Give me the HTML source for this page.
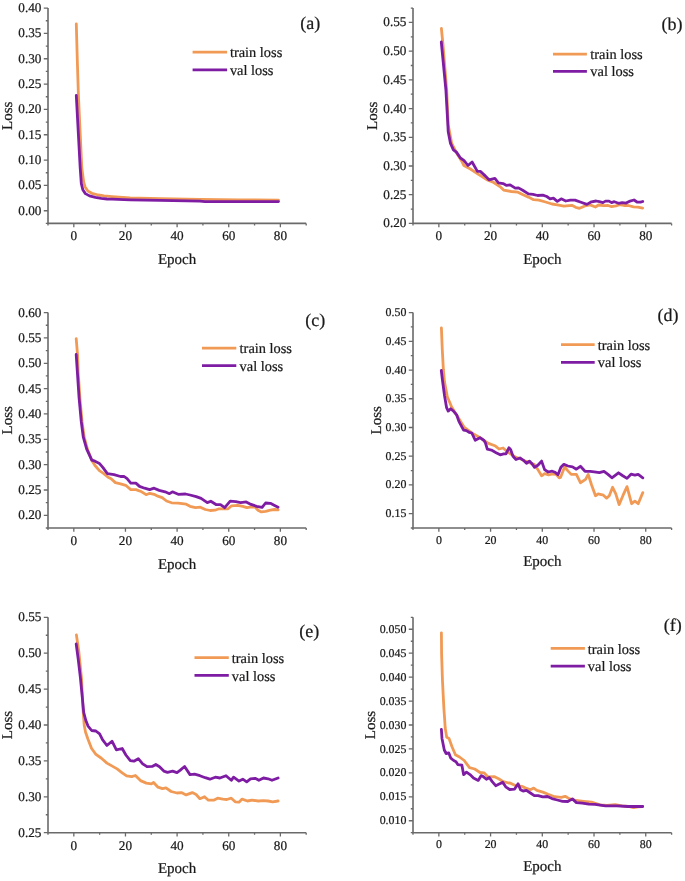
<!DOCTYPE html>
<html><head><meta charset="utf-8"><style>
html,body{margin:0;padding:0;background:#fff;}
svg{display:block;will-change:transform;}
text{font-family:"Liberation Serif", serif;text-rendering:geometricPrecision;fill:#1a1a1a;stroke:#1a1a1a;stroke-width:0.22px;}
</style></head><body>
<svg width="685" height="881" viewBox="0 0 685 881">
<rect width="685" height="881" fill="#fff"/>
<path d="M48.00,8.10V223.40H306.20" fill="none" stroke="#6a6a6a" stroke-width="1.6"/>
<path d="M45.80,223.40H48.00M43.80,210.74H48.00M45.80,198.07H48.00M43.80,185.41H48.00M45.80,172.74H48.00M43.80,160.08H48.00M45.80,147.41H48.00M43.80,134.75H48.00M45.80,122.08H48.00M43.80,109.42H48.00M45.80,96.75H48.00M43.80,84.09H48.00M45.80,71.42H48.00M43.80,58.76H48.00M45.80,46.09H48.00M43.80,33.43H48.00M45.80,20.76H48.00M43.80,8.10H48.00M48.00,223.40V225.40M73.82,223.40V227.20M99.64,223.40V225.40M125.46,223.40V227.20M151.28,223.40V225.40M177.10,223.40V227.20M202.92,223.40V225.40M228.74,223.40V227.20M254.56,223.40V225.40M280.38,223.40V227.20M306.20,223.40V225.40" stroke="#6a6a6a" stroke-width="1.3" fill="none"/>
<text x="41.40" y="214.70" text-anchor="end" font-size="13.2">0.00</text>
<text x="41.40" y="189.37" text-anchor="end" font-size="13.2">0.05</text>
<text x="41.40" y="164.04" text-anchor="end" font-size="13.2">0.10</text>
<text x="41.40" y="138.71" text-anchor="end" font-size="13.2">0.15</text>
<text x="41.40" y="113.38" text-anchor="end" font-size="13.2">0.20</text>
<text x="41.40" y="88.05" text-anchor="end" font-size="13.2">0.25</text>
<text x="41.40" y="62.72" text-anchor="end" font-size="13.2">0.30</text>
<text x="41.40" y="37.39" text-anchor="end" font-size="13.2">0.35</text>
<text x="41.40" y="12.06" text-anchor="end" font-size="13.2">0.40</text>
<text x="73.82" y="240.40" text-anchor="middle" font-size="13.2">0</text>
<text x="125.46" y="240.40" text-anchor="middle" font-size="13.2">20</text>
<text x="177.10" y="240.40" text-anchor="middle" font-size="13.2">40</text>
<text x="228.74" y="240.40" text-anchor="middle" font-size="13.2">60</text>
<text x="280.38" y="240.40" text-anchor="middle" font-size="13.2">80</text>
<text x="177.10" y="263.60" text-anchor="middle" font-size="15">Epoch</text>
<text transform="translate(12.10,115.75) rotate(-90)" x="0" y="0" text-anchor="middle" font-size="15">Loss</text>
<polyline points="76.3,24.0 77.3,60.0 78.4,95.0 81.8,168.0 83.7,182.2 85.1,186.9 87.8,191.0 91.9,193.3 98.3,195.0 104.1,195.9 112.0,196.6 130.0,197.8 160.0,198.6 200.0,199.4 240.0,199.9 278.5,200.2" fill="none" stroke="#f19a55" stroke-width="2.8" stroke-linejoin="round" stroke-linecap="round"/>
<polyline points="76.3,95.5 80.2,168.0 81.3,183.4 82.8,189.8 85.4,193.6 89.5,195.9 95.4,197.4 101.2,198.4 107.0,199.0 112.0,199.2 130.0,199.8 160.0,200.4 200.0,201.1 205.0,201.6 278.5,201.6" fill="none" stroke="#7e1ca4" stroke-width="2.8" stroke-linejoin="round" stroke-linecap="round"/>
<path d="M192.60,52.20H227.10" stroke="#f19a55" stroke-width="2.7"/>
<path d="M192.60,69.80H227.10" stroke="#7e1ca4" stroke-width="2.7"/>
<text x="229.90" y="56.80" font-size="14.4">train loss</text>
<text x="229.90" y="74.60" font-size="14.4">val loss</text>
<text x="300.30" y="29.30" font-size="18">(a)</text>
<path d="M413.00,8.10V223.40H671.60" fill="none" stroke="#6a6a6a" stroke-width="1.6"/>
<path d="M408.80,223.40H413.00M410.80,209.05H413.00M408.80,194.69H413.00M410.80,180.34H413.00M408.80,165.99H413.00M410.80,151.63H413.00M408.80,137.28H413.00M410.80,122.93H413.00M408.80,108.57H413.00M410.80,94.22H413.00M408.80,79.87H413.00M410.80,65.51H413.00M408.80,51.16H413.00M410.80,36.81H413.00M408.80,22.45H413.00M410.80,8.10H413.00M413.00,223.40V225.40M438.86,223.40V227.20M464.72,223.40V225.40M490.58,223.40V227.20M516.44,223.40V225.40M542.30,223.40V227.20M568.16,223.40V225.40M594.02,223.40V227.20M619.88,223.40V225.40M645.74,223.40V227.20M671.60,223.40V225.40" stroke="#6a6a6a" stroke-width="1.3" fill="none"/>
<text x="406.40" y="227.36" text-anchor="end" font-size="13.2">0.20</text>
<text x="406.40" y="198.65" text-anchor="end" font-size="13.2">0.25</text>
<text x="406.40" y="169.95" text-anchor="end" font-size="13.2">0.30</text>
<text x="406.40" y="141.24" text-anchor="end" font-size="13.2">0.35</text>
<text x="406.40" y="112.53" text-anchor="end" font-size="13.2">0.40</text>
<text x="406.40" y="83.83" text-anchor="end" font-size="13.2">0.45</text>
<text x="406.40" y="55.12" text-anchor="end" font-size="13.2">0.50</text>
<text x="406.40" y="26.41" text-anchor="end" font-size="13.2">0.55</text>
<text x="438.86" y="240.40" text-anchor="middle" font-size="13.2">0</text>
<text x="490.58" y="240.40" text-anchor="middle" font-size="13.2">20</text>
<text x="542.30" y="240.40" text-anchor="middle" font-size="13.2">40</text>
<text x="594.02" y="240.40" text-anchor="middle" font-size="13.2">60</text>
<text x="645.74" y="240.40" text-anchor="middle" font-size="13.2">80</text>
<text x="542.30" y="263.60" text-anchor="middle" font-size="15">Epoch</text>
<text transform="translate(377.10,115.75) rotate(-90)" x="0" y="0" text-anchor="middle" font-size="15">Loss</text>
<polyline points="441.4,28.5 443.0,45.0 446.7,90.0 448.2,124.7 451.7,143.4 456.4,152.7 461.6,160.9 463.9,165.5 470.4,169.0 478.5,174.3 486.7,179.6 493.7,182.5 500.7,187.2 503.6,190.1 511.2,191.5 517.9,192.2 523.1,194.8 528.4,197.1 533.6,199.7 538.9,200.1 545.5,202.0 552.0,204.0 557.3,204.9 563.9,206.2 571.8,205.3 575.7,207.3 579.6,208.3 584.9,206.0 590.1,204.9 595.4,207.0 598.5,205.0 603.8,205.7 608.1,205.5 611.6,206.6 616.0,205.9 619.5,204.6 623.9,205.5 628.3,205.5 633.5,206.8 637.9,207.2 642.7,208.1" fill="none" stroke="#f19a55" stroke-width="2.8" stroke-linejoin="round" stroke-linecap="round"/>
<polyline points="441.3,42.0 445.9,90.0 447.6,120.0 448.2,131.7 450.5,143.4 453.4,149.8 456.4,152.1 460.4,158.0 463.9,160.3 468.0,165.5 472.1,162.0 477.4,171.4 480.3,171.4 485.5,176.1 489.0,179.8 494.9,178.4 498.4,182.8 503.1,183.6 506.6,185.4 510.1,184.8 515.3,188.2 518.5,187.9 523.1,190.5 528.4,193.9 533.0,194.4 537.6,195.5 542.8,195.2 546.8,196.5 550.1,198.8 553.4,198.1 557.3,201.4 561.2,198.8 565.8,201.0 570.4,200.1 575.0,200.1 581.0,202.3 586.9,204.4 591.5,201.8 596.1,201.0 599.4,201.7 602.9,202.6 605.5,201.1 609.0,201.1 611.6,202.6 614.3,201.7 618.6,203.3 622.2,202.6 626.1,203.1 629.2,201.4 634.0,200.0 637.0,202.0 640.5,202.2 642.7,201.5" fill="none" stroke="#7e1ca4" stroke-width="2.8" stroke-linejoin="round" stroke-linecap="round"/>
<path d="M553.00,54.20H586.90" stroke="#f19a55" stroke-width="2.7"/>
<path d="M553.00,71.40H586.90" stroke="#7e1ca4" stroke-width="2.7"/>
<text x="590.30" y="59.00" font-size="14.4">train loss</text>
<text x="590.30" y="76.20" font-size="14.4">val loss</text>
<text x="661.60" y="29.60" font-size="18">(b)</text>
<path d="M48.00,312.60V528.00H306.20" fill="none" stroke="#6a6a6a" stroke-width="1.6"/>
<path d="M45.80,528.00H48.00M43.80,515.33H48.00M45.80,502.66H48.00M43.80,489.99H48.00M45.80,477.32H48.00M43.80,464.65H48.00M45.80,451.98H48.00M43.80,439.31H48.00M45.80,426.64H48.00M43.80,413.96H48.00M45.80,401.29H48.00M43.80,388.62H48.00M45.80,375.95H48.00M43.80,363.28H48.00M45.80,350.61H48.00M43.80,337.94H48.00M45.80,325.27H48.00M43.80,312.60H48.00M48.00,528.00V530.00M73.82,528.00V531.80M99.64,528.00V530.00M125.46,528.00V531.80M151.28,528.00V530.00M177.10,528.00V531.80M202.92,528.00V530.00M228.74,528.00V531.80M254.56,528.00V530.00M280.38,528.00V531.80M306.20,528.00V530.00" stroke="#6a6a6a" stroke-width="1.3" fill="none"/>
<text x="41.40" y="519.29" text-anchor="end" font-size="13.2">0.20</text>
<text x="41.40" y="493.95" text-anchor="end" font-size="13.2">0.25</text>
<text x="41.40" y="468.61" text-anchor="end" font-size="13.2">0.30</text>
<text x="41.40" y="443.27" text-anchor="end" font-size="13.2">0.35</text>
<text x="41.40" y="417.92" text-anchor="end" font-size="13.2">0.40</text>
<text x="41.40" y="392.58" text-anchor="end" font-size="13.2">0.45</text>
<text x="41.40" y="367.24" text-anchor="end" font-size="13.2">0.50</text>
<text x="41.40" y="341.90" text-anchor="end" font-size="13.2">0.55</text>
<text x="41.40" y="316.56" text-anchor="end" font-size="13.2">0.60</text>
<text x="73.82" y="545.00" text-anchor="middle" font-size="13.2">0</text>
<text x="125.46" y="545.00" text-anchor="middle" font-size="13.2">20</text>
<text x="177.10" y="545.00" text-anchor="middle" font-size="13.2">40</text>
<text x="228.74" y="545.00" text-anchor="middle" font-size="13.2">60</text>
<text x="280.38" y="545.00" text-anchor="middle" font-size="13.2">80</text>
<text x="177.10" y="568.50" text-anchor="middle" font-size="15">Epoch</text>
<text transform="translate(12.30,420.30) rotate(-90)" x="0" y="0" text-anchor="middle" font-size="15">Loss</text>
<polyline points="76.2,338.7 77.6,355.5 78.2,372.6 79.9,398.1 82.1,421.9 84.2,437.2 87.6,449.5 91.8,460.5 95.0,465.5 99.4,470.7 103.8,473.6 108.1,477.2 111.1,478.7 115.4,482.6 120.5,483.8 125.7,485.3 130.8,489.6 135.9,489.6 141.7,491.8 146.1,494.7 149.7,493.3 154.1,494.3 157.8,496.2 162.2,497.7 166.5,501.0 171.6,502.8 178.2,503.1 186.2,504.2 190.0,506.3 195.5,507.7 200.4,507.2 205.3,509.5 210.1,510.5 215.0,510.2 219.1,508.8 224.7,508.8 228.1,508.8 231.6,505.8 237.8,505.4 242.7,506.3 246.9,507.7 251.7,506.8 255.2,507.2 258.0,510.2 261.4,511.9 265.6,511.3 270.4,510.2 274.6,509.5 278.1,509.9" fill="none" stroke="#f19a55" stroke-width="2.8" stroke-linejoin="round" stroke-linecap="round"/>
<polyline points="76.2,354.5 77.4,372.6 79.1,398.1 81.3,421.9 83.3,437.2 86.7,449.1 91.8,460.2 95.0,461.2 99.4,463.4 103.0,467.7 107.4,473.6 114.0,474.7 120.5,476.5 124.2,476.5 127.1,478.7 130.8,483.1 135.9,483.1 139.5,486.4 144.6,488.2 149.7,489.6 154.1,488.2 159.2,490.4 165.1,491.8 169.5,493.7 172.4,491.8 178.2,494.3 185.5,494.0 190.0,495.0 196.2,496.6 201.1,498.4 207.3,502.6 210.8,501.2 216.4,504.7 220.5,504.7 224.7,507.7 230.2,501.2 235.8,501.6 240.6,502.6 246.2,501.9 251.0,504.4 256.6,506.3 262.1,507.4 265.6,503.0 270.4,503.3 274.6,505.4 278.1,507.2" fill="none" stroke="#7e1ca4" stroke-width="2.8" stroke-linejoin="round" stroke-linecap="round"/>
<path d="M202.00,348.10H236.30" stroke="#f19a55" stroke-width="2.7"/>
<path d="M202.00,365.70H236.30" stroke="#7e1ca4" stroke-width="2.7"/>
<text x="239.60" y="353.00" font-size="14.4">train loss</text>
<text x="239.60" y="370.50" font-size="14.4">val loss</text>
<text x="305.30" y="325.80" font-size="18">(c)</text>
<path d="M413.00,312.60V528.00H671.60" fill="none" stroke="#6a6a6a" stroke-width="1.6"/>
<path d="M410.80,528.00H413.00M408.80,513.64H413.00M410.80,499.28H413.00M408.80,484.92H413.00M410.80,470.56H413.00M408.80,456.20H413.00M410.80,441.84H413.00M408.80,427.48H413.00M410.80,413.12H413.00M408.80,398.76H413.00M410.80,384.40H413.00M408.80,370.04H413.00M410.80,355.68H413.00M408.80,341.32H413.00M410.80,326.96H413.00M408.80,312.60H413.00M413.00,528.00V530.00M438.86,528.00V531.80M464.72,528.00V530.00M490.58,528.00V531.80M516.44,528.00V530.00M542.30,528.00V531.80M568.16,528.00V530.00M594.02,528.00V531.80M619.88,528.00V530.00M645.74,528.00V531.80M671.60,528.00V530.00" stroke="#6a6a6a" stroke-width="1.3" fill="none"/>
<text x="406.40" y="517.21" text-anchor="end" font-size="11.9">0.15</text>
<text x="406.40" y="488.49" text-anchor="end" font-size="11.9">0.20</text>
<text x="406.40" y="459.77" text-anchor="end" font-size="11.9">0.25</text>
<text x="406.40" y="431.05" text-anchor="end" font-size="11.9">0.30</text>
<text x="406.40" y="402.33" text-anchor="end" font-size="11.9">0.35</text>
<text x="406.40" y="373.61" text-anchor="end" font-size="11.9">0.40</text>
<text x="406.40" y="344.89" text-anchor="end" font-size="11.9">0.45</text>
<text x="406.40" y="316.17" text-anchor="end" font-size="11.9">0.50</text>
<text x="438.86" y="543.60" text-anchor="middle" font-size="11.9">0</text>
<text x="490.58" y="543.60" text-anchor="middle" font-size="11.9">20</text>
<text x="542.30" y="543.60" text-anchor="middle" font-size="11.9">40</text>
<text x="594.02" y="543.60" text-anchor="middle" font-size="11.9">60</text>
<text x="645.74" y="543.60" text-anchor="middle" font-size="11.9">80</text>
<text x="542.30" y="565.70" text-anchor="middle" font-size="15">Epoch</text>
<text transform="translate(380.60,420.30) rotate(-90)" x="0" y="0" text-anchor="middle" font-size="15">Loss</text>
<polyline points="441.4,328.0 442.3,350.0 443.4,370.0 444.5,381.8 447.3,396.8 451.4,406.4 456.8,415.2 464.3,427.5 471.8,433.0 480.0,437.7 485.0,441.3 488.5,443.4 494.9,445.7 499.0,449.0 503.1,448.0 506.6,451.0 510.1,453.6 516.0,457.4 520.0,458.5 524.7,460.9 529.4,462.6 534.1,464.4 537.6,469.1 541.6,475.8 544.6,473.7 548.6,474.9 552.7,474.0 556.2,474.3 559.2,477.8 560.5,477.5 564.6,466.9 567.9,470.9 571.2,474.4 576.4,474.4 580.4,482.7 585.6,479.4 588.2,474.4 591.5,484.7 595.5,495.8 598.1,493.9 603.4,495.2 606.6,498.1 609.3,495.8 612.6,487.3 615.8,493.9 619.1,504.6 623.1,495.2 627.0,486.6 631.6,503.7 634.9,501.1 638.2,503.7 642.8,492.6" fill="none" stroke="#f19a55" stroke-width="2.8" stroke-linejoin="round" stroke-linecap="round"/>
<polyline points="441.3,370.5 442.5,380.5 444.5,395.5 446.6,407.7 448.2,411.1 450.7,408.8 454.1,411.8 456.8,415.2 458.9,421.4 463.6,430.2 466.4,430.6 469.1,432.3 471.8,433.0 475.2,440.2 480.0,437.7 484.1,440.5 485.5,443.0 487.3,449.2 491.4,450.1 496.1,452.7 500.2,454.8 503.7,453.9 506.0,453.9 508.9,447.8 510.7,449.8 513.0,456.2 516.0,459.5 520.0,458.0 523.5,460.3 526.5,463.4 529.4,461.1 531.7,463.4 534.6,467.3 538.1,465.0 541.6,461.1 544.6,469.6 548.1,472.0 552.2,471.2 555.1,472.3 558.0,474.7 560.9,467.3 563.9,464.3 567.9,466.0 572.5,466.9 576.4,469.2 580.4,466.3 585.0,471.3 590.2,471.3 594.2,471.8 599.4,472.6 604.0,471.3 608.0,474.4 611.9,477.8 618.5,472.8 622.4,475.5 627.0,478.4 631.0,474.2 634.9,475.2 638.2,474.4 642.8,477.8" fill="none" stroke="#7e1ca4" stroke-width="2.8" stroke-linejoin="round" stroke-linecap="round"/>
<path d="M561.00,344.60H594.70" stroke="#f19a55" stroke-width="2.7"/>
<path d="M561.00,362.30H594.70" stroke="#7e1ca4" stroke-width="2.7"/>
<text x="597.80" y="349.70" font-size="14.4">train loss</text>
<text x="597.80" y="367.40" font-size="14.4">val loss</text>
<text x="657.50" y="321.40" font-size="18">(d)</text>
<path d="M48.00,617.30V832.70H306.20" fill="none" stroke="#6a6a6a" stroke-width="1.6"/>
<path d="M43.80,832.70H48.00M45.80,814.75H48.00M43.80,796.80H48.00M45.80,778.85H48.00M43.80,760.90H48.00M45.80,742.95H48.00M43.80,725.00H48.00M45.80,707.05H48.00M43.80,689.10H48.00M45.80,671.15H48.00M43.80,653.20H48.00M45.80,635.25H48.00M43.80,617.30H48.00M48.00,832.70V834.70M73.82,832.70V836.50M99.64,832.70V834.70M125.46,832.70V836.50M151.28,832.70V834.70M177.10,832.70V836.50M202.92,832.70V834.70M228.74,832.70V836.50M254.56,832.70V834.70M280.38,832.70V836.50M306.20,832.70V834.70" stroke="#6a6a6a" stroke-width="1.3" fill="none"/>
<text x="41.40" y="836.66" text-anchor="end" font-size="13.2">0.25</text>
<text x="41.40" y="800.76" text-anchor="end" font-size="13.2">0.30</text>
<text x="41.40" y="764.86" text-anchor="end" font-size="13.2">0.35</text>
<text x="41.40" y="728.96" text-anchor="end" font-size="13.2">0.40</text>
<text x="41.40" y="693.06" text-anchor="end" font-size="13.2">0.45</text>
<text x="41.40" y="657.16" text-anchor="end" font-size="13.2">0.50</text>
<text x="41.40" y="621.26" text-anchor="end" font-size="13.2">0.55</text>
<text x="73.82" y="849.70" text-anchor="middle" font-size="13.2">0</text>
<text x="125.46" y="849.70" text-anchor="middle" font-size="13.2">20</text>
<text x="177.10" y="849.70" text-anchor="middle" font-size="13.2">40</text>
<text x="228.74" y="849.70" text-anchor="middle" font-size="13.2">60</text>
<text x="280.38" y="849.70" text-anchor="middle" font-size="13.2">80</text>
<text x="177.10" y="872.80" text-anchor="middle" font-size="15">Epoch</text>
<text transform="translate(12.20,725.00) rotate(-90)" x="0" y="0" text-anchor="middle" font-size="15">Loss</text>
<polyline points="76.4,634.9 78.9,652.3 81.6,679.5 83.0,709.5 84.2,725.0 85.5,732.0 87.9,739.0 91.6,748.5 95.9,754.3 101.1,758.0 106.9,763.1 112.7,766.4 117.1,768.9 122.2,772.8 126.6,775.8 131.7,776.6 135.4,775.5 140.5,780.6 146.3,783.1 151.4,783.9 153.6,782.5 158.0,787.2 162.4,788.6 166.0,787.9 171.1,791.5 177.0,793.0 181.4,792.6 186.1,794.9 192.3,792.6 196.1,794.5 199.9,798.7 204.5,796.7 208.4,800.2 213.7,800.2 217.6,798.2 222.9,799.1 226.8,799.5 231.3,798.2 235.2,801.8 239.0,802.2 242.1,799.1 247.4,801.0 252.0,800.2 258.2,801.0 263.5,800.7 268.1,801.0 272.7,801.8 278.1,801.0" fill="none" stroke="#f19a55" stroke-width="2.8" stroke-linejoin="round" stroke-linecap="round"/>
<polyline points="76.2,644.0 78.2,659.1 80.3,676.8 82.3,697.3 83.7,712.3 85.7,720.0 87.9,725.8 91.6,730.5 95.9,731.0 99.6,733.9 102.5,739.7 106.9,745.5 112.0,741.2 116.4,749.9 122.2,748.5 125.9,755.0 130.3,760.6 133.9,761.2 138.3,758.7 142.7,763.8 147.0,766.7 152.2,766.4 155.8,764.5 159.5,766.7 163.8,771.1 167.5,772.3 172.6,771.1 177.0,772.6 180.0,770.3 184.6,766.5 190.0,774.6 194.6,774.2 199.9,775.7 205.3,777.7 209.9,779.2 215.3,777.2 219.9,778.0 226.0,775.7 231.3,780.3 233.6,777.2 239.0,781.1 242.8,779.2 246.7,781.8 250.5,778.8 255.1,778.3 258.9,780.3 263.5,778.0 268.1,778.8 272.0,780.3 278.1,778.0" fill="none" stroke="#7e1ca4" stroke-width="2.8" stroke-linejoin="round" stroke-linecap="round"/>
<path d="M194.50,657.60H228.80" stroke="#f19a55" stroke-width="2.7"/>
<path d="M194.50,675.40H228.80" stroke="#7e1ca4" stroke-width="2.7"/>
<text x="231.80" y="662.70" font-size="14.4">train loss</text>
<text x="231.80" y="680.50" font-size="14.4">val loss</text>
<text x="299.20" y="636.60" font-size="18">(e)</text>
<path d="M413.00,617.30V832.70H671.60" fill="none" stroke="#6a6a6a" stroke-width="1.6"/>
<path d="M410.80,832.70H413.00M408.80,820.73H413.00M410.80,808.77H413.00M408.80,796.80H413.00M410.80,784.83H413.00M408.80,772.87H413.00M410.80,760.90H413.00M408.80,748.93H413.00M410.80,736.97H413.00M408.80,725.00H413.00M410.80,713.03H413.00M408.80,701.07H413.00M410.80,689.10H413.00M408.80,677.13H413.00M410.80,665.17H413.00M408.80,653.20H413.00M410.80,641.23H413.00M408.80,629.27H413.00M410.80,617.30H413.00M413.00,832.70V834.70M438.86,832.70V836.50M464.72,832.70V834.70M490.58,832.70V836.50M516.44,832.70V834.70M542.30,832.70V836.50M568.16,832.70V834.70M594.02,832.70V836.50M619.88,832.70V834.70M645.74,832.70V836.50M671.60,832.70V834.70" stroke="#6a6a6a" stroke-width="1.3" fill="none"/>
<text x="406.40" y="824.30" text-anchor="end" font-size="11.9">0.010</text>
<text x="406.40" y="800.37" text-anchor="end" font-size="11.9">0.015</text>
<text x="406.40" y="776.44" text-anchor="end" font-size="11.9">0.020</text>
<text x="406.40" y="752.50" text-anchor="end" font-size="11.9">0.025</text>
<text x="406.40" y="728.57" text-anchor="end" font-size="11.9">0.030</text>
<text x="406.40" y="704.64" text-anchor="end" font-size="11.9">0.035</text>
<text x="406.40" y="680.70" text-anchor="end" font-size="11.9">0.040</text>
<text x="406.40" y="656.77" text-anchor="end" font-size="11.9">0.045</text>
<text x="406.40" y="632.84" text-anchor="end" font-size="11.9">0.050</text>
<text x="438.86" y="848.30" text-anchor="middle" font-size="11.9">0</text>
<text x="490.58" y="848.30" text-anchor="middle" font-size="11.9">20</text>
<text x="542.30" y="848.30" text-anchor="middle" font-size="11.9">40</text>
<text x="594.02" y="848.30" text-anchor="middle" font-size="11.9">60</text>
<text x="645.74" y="848.30" text-anchor="middle" font-size="11.9">80</text>
<text x="542.30" y="871.00" text-anchor="middle" font-size="15">Epoch</text>
<text transform="translate(374.90,725.00) rotate(-90)" x="0" y="0" text-anchor="middle" font-size="15">Loss</text>
<polyline points="441.4,632.8 441.6,654.1 442.5,681.4 443.9,708.6 444.7,720.0 445.2,728.0 446.7,737.2 449.0,738.4 451.9,746.5 455.4,754.7 459.5,757.0 464.2,760.5 469.5,767.6 474.7,769.0 480.0,772.5 484.0,772.8 488.1,776.9 494.6,776.7 498.6,778.7 503.3,781.6 508.6,783.0 510.0,782.9 515.3,785.5 521.8,786.4 525.8,788.1 530.4,789.7 533.7,788.1 536.9,790.4 542.8,792.1 548.1,794.3 554.7,796.7 561.2,797.3 565.2,796.3 569.1,798.6 575.7,800.5 583.6,801.3 591.5,802.2 600.0,804.8 607.0,805.5 615.1,804.6 622.0,805.8 628.3,806.5 633.5,807.6 638.0,806.8 642.7,806.5" fill="none" stroke="#f19a55" stroke-width="2.8" stroke-linejoin="round" stroke-linecap="round"/>
<polyline points="441.4,729.5 442.0,738.4 444.3,750.0 446.1,753.5 448.8,753.0 450.8,758.2 453.7,760.5 456.0,761.7 457.8,764.6 461.9,765.2 463.6,774.6 466.5,772.2 470.0,774.6 473.5,778.1 478.2,780.4 481.1,775.7 482.9,776.3 486.4,779.2 489.3,777.5 492.2,781.6 495.7,785.7 499.2,783.9 502.7,782.2 505.7,786.8 509.7,789.5 514.6,789.1 518.1,783.8 520.5,789.7 523.1,791.0 526.4,790.4 530.4,793.0 534.3,795.6 538.2,795.6 542.8,796.9 547.4,796.5 552.0,798.6 557.3,800.0 562.6,801.3 567.8,801.5 572.4,798.9 576.4,802.6 582.3,803.1 588.8,804.2 595.0,804.4 605.5,805.8 616.9,805.8 628.3,806.5 642.7,806.5" fill="none" stroke="#7e1ca4" stroke-width="2.8" stroke-linejoin="round" stroke-linecap="round"/>
<path d="M550.70,648.40H584.90" stroke="#f19a55" stroke-width="2.7"/>
<path d="M550.70,666.20H584.90" stroke="#7e1ca4" stroke-width="2.7"/>
<text x="587.80" y="653.50" font-size="14.4">train loss</text>
<text x="587.80" y="671.30" font-size="14.4">val loss</text>
<text x="663.80" y="631.00" font-size="18">(f)</text>
</svg>
</body></html>
